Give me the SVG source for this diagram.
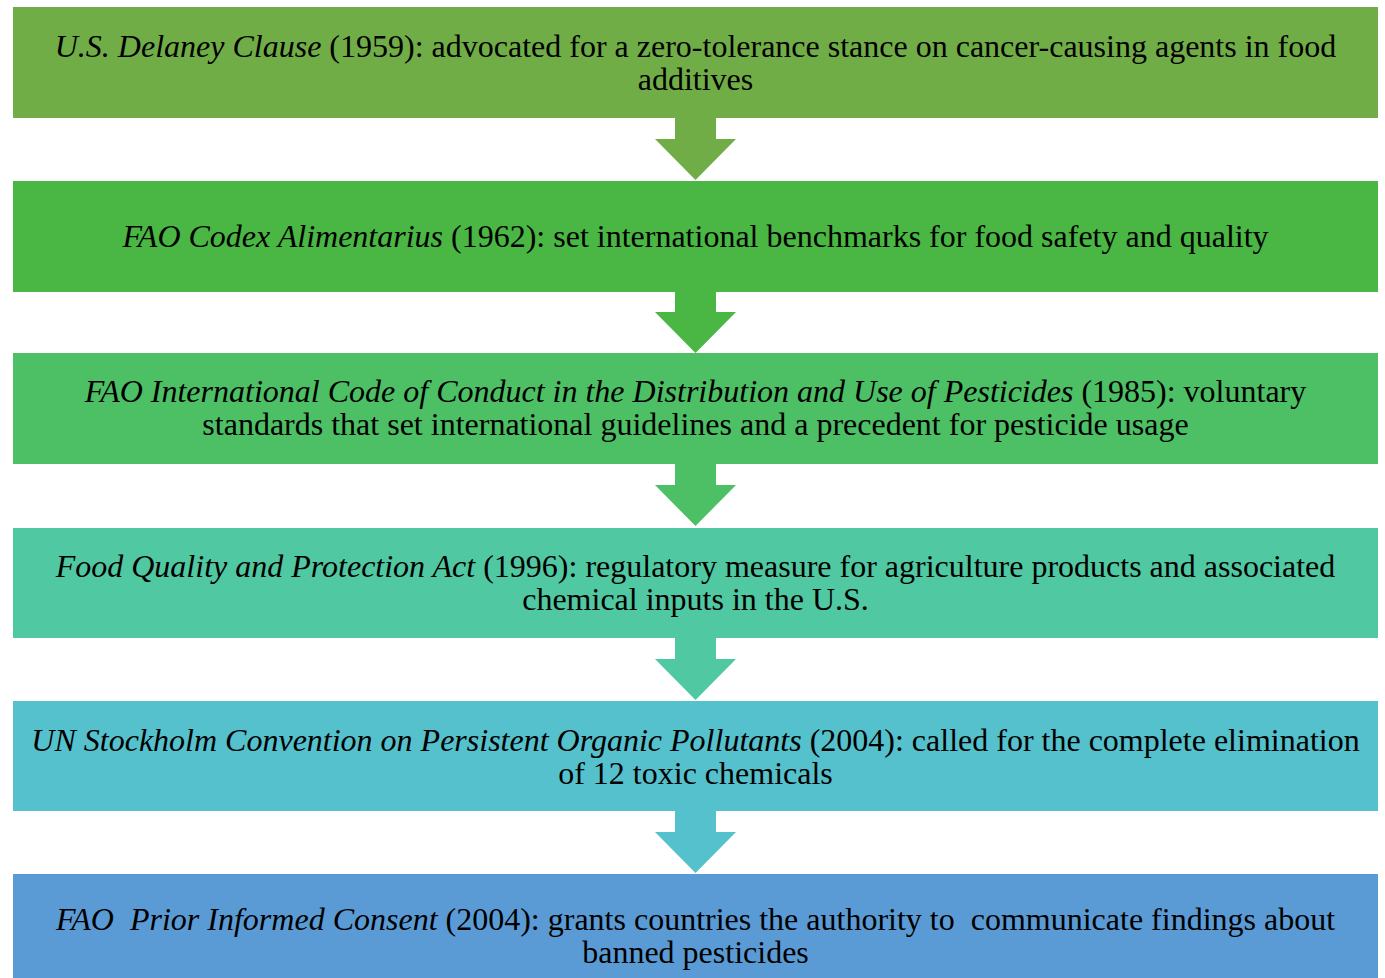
<svg xmlns="http://www.w3.org/2000/svg" width="1385" height="978" viewBox="0 0 1385 978">
<style>
text{font-family:"Liberation Serif","Times New Roman",serif;font-size:32px;fill:#000;text-anchor:middle}
.i{font-style:italic}
</style>
<rect width="1385" height="978" fill="#fff"/>
<g id="connectors">
<path d="M675,118H716V139H736L695.5,180L655,139H675Z" fill="#70AD47"/>
<path d="M675,291H716V312H736L695.5,353L655,312H675Z" fill="#4AB643"/>
<path d="M675,464H716V485H736L695.5,526L655,485H675Z" fill="#4DBF65"/>
<path d="M675,638H716V659H736L695.5,700L655,659H675Z" fill="#50C8A2"/>
<path d="M675,811H716V832H736L695.5,873L655,832H675Z" fill="#54C1CD"/>
</g>
<g id="n1"><rect x="13" y="7" width="1365" height="111" fill="#70AD47"/>
<text x="695.5" y="57"><tspan class="i">U.S. Delaney Clause</tspan> (1959): advocated for a zero-tolerance stance on cancer-causing agents in food</text>
<text x="695.5" y="90">additives</text></g>
<g id="n2"><rect x="13" y="181" width="1365" height="111" fill="#4AB643"/>
<text x="695.5" y="247"><tspan class="i">FAO Codex Alimentarius</tspan> (1962): set international benchmarks for food safety and quality</text></g>
<g id="n3"><rect x="13" y="353" width="1365" height="111" fill="#4DBF65"/>
<text x="695.5" y="402"><tspan class="i">FAO International Code of Conduct in the Distribution and Use of Pesticides</tspan> (1985): voluntary</text>
<text x="695.5" y="435">standards that set international guidelines and a precedent for pesticide usage</text></g>
<g id="n4"><rect x="13" y="528" width="1365" height="110" fill="#50C8A2"/>
<text x="695.5" y="577"><tspan class="i">Food Quality and Protection Act</tspan> (1996): regulatory measure for agriculture products and associated</text>
<text x="695.5" y="610">chemical inputs in the U.S.</text></g>
<g id="n5"><rect x="13" y="701" width="1365" height="110" fill="#54C1CD"/>
<text x="695.5" y="751"><tspan class="i">UN Stockholm Convention on Persistent Organic Pollutants</tspan> (2004): called for the complete elimination</text>
<text x="695.5" y="784">of 12 toxic chemicals</text></g>
<g id="n6"><rect x="13" y="874" width="1365" height="110" fill="#5B9BD5"/>
<text x="695.5" y="930" xml:space="preserve"><tspan class="i">FAO  Prior Informed Consent</tspan> (2004): grants countries the authority to  communicate findings about</text>
<text x="695.5" y="963">banned pesticides</text></g>
</svg>
